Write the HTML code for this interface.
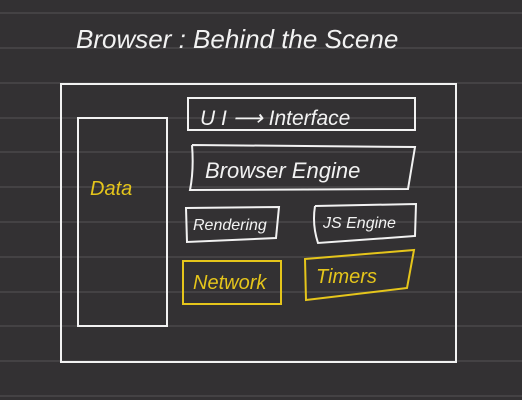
<!DOCTYPE html>
<html><head><style>
html,body{margin:0;padding:0;background:#333133;}
svg{display:block}
text{font-family:"Liberation Sans",sans-serif;font-style:italic}
</style></head><body>
<svg width="522" height="400" viewBox="0 0 522 400" xmlns="http://www.w3.org/2000/svg">
<rect width="522" height="400" fill="#333133"/>
<g stroke="#4a494b" stroke-width="1.5">
<line x1="0" y1="13" x2="522" y2="13"/>
<line x1="0" y1="48" x2="522" y2="48"/>
<line x1="0" y1="83" x2="522" y2="83"/>
<line x1="0" y1="118" x2="522" y2="118"/>
<line x1="0" y1="152" x2="522" y2="152"/>
<line x1="0" y1="187" x2="522" y2="187"/>
<line x1="0" y1="222" x2="522" y2="222"/>
<line x1="0" y1="257" x2="522" y2="257"/>
<line x1="0" y1="292" x2="522" y2="292"/>
<line x1="0" y1="326" x2="522" y2="326"/>
<line x1="0" y1="361" x2="522" y2="361"/>
<line x1="0" y1="396" x2="522" y2="396"/>
</g>
<text x="76" y="48" fill="#f2f2f2" font-size="26">Browser :  Behind the Scene</text>
<g fill="none" stroke="#f2f2f2" stroke-width="2">
<rect x="61" y="84" width="395" height="278"/>
<rect x="78" y="118" width="89" height="208"/>
<rect x="188" y="98" width="227" height="32"/>
<path d="M192 145 L415 147 L408 189 L190 190 Q194 170 192 145"/>
<path d="M186 208 L279 207 L276 238 L187 242 Z"/>
<path d="M315 206 L416 204 L415 236 L318 243 Q312 225 315 206"/>
</g>
<g fill="none" stroke="#e5c51b" stroke-width="2">
<rect x="183" y="261" width="98" height="43"/>
<path d="M305 259 L414 250 L407 288 L306 300 Z"/>
</g>
<text x="200" y="125" fill="#f2f2f2" font-size="21">U I  ⟶  Interface</text>
<text x="205" y="178" fill="#f2f2f2" font-size="22">Browser  Engine</text>
<text x="193" y="230" fill="#f2f2f2" font-size="16">Rendering</text>
<text x="323" y="228" fill="#f2f2f2" font-size="16">JS Engine</text>
<text x="90" y="195" fill="#e5c51b" font-size="20">Data</text>
<text x="193" y="289" fill="#e5c51b" font-size="20">Network</text>
<text x="316" y="283" fill="#e5c51b" font-size="20">Timers</text>
</svg>
</body></html>
